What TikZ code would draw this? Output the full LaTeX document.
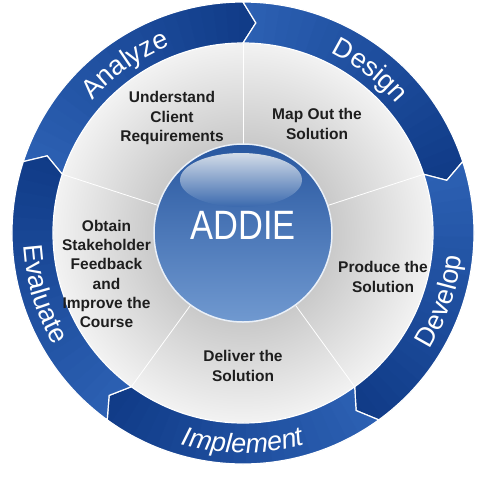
\documentclass[tikz,border=0pt]{standalone}
\usepackage{fontspec}
\setmainfont{Liberation Sans}
\usepackage{xcolor}
\usepackage{graphicx}
\usepackage{tikz}
\usetikzlibrary{decorations.text, positioning}
\definecolor{ringlight}{HTML}{2C60B3}
\definecolor{ringdark}{HTML}{0F3A86}
\definecolor{hubtop}{HTML}{2857A0}
\definecolor{hubmid}{HTML}{3A6AB0}
\definecolor{hubbottom}{HTML}{7099D0}
\definecolor{glosstop}{HTML}{D3DCE8}
\definecolor{glossbottom}{HTML}{3A69AE}
\definecolor{tasktext}{HTML}{1E1E1E}
\newcommand{\ringfont}{\fontsize{27}{27}\selectfont}
% one arrow of the ring, from its notch at #1 clockwise to its head
\newcommand{\segpath}[1]{(#1:231) arc[start angle=#1, end angle=#1-72, radius=231]
  -- (#1-75.5:210.5) -- (#1-72:190) arc[start angle=#1-72, end angle=#1, radius=190]
  -- (#1-3.5:210.5) -- cycle}
\tikzstyle{task} = [align=center, text=tasktext, font=\bfseries\fontsize{15.5}{19.2}\selectfont, inner sep=0pt]
\tikzstyle{segment} = [draw=white, line width=1.2pt, line join=miter]
\tikzstyle{divider} = [draw=white, line width=0.8pt]
\tikzstyle{phase} = [decorate, decoration={text along path, text align=center, text color=white}]

\begin{document}
\begin{tikzpicture}[x=1pt, y=1pt]
  \useasboundingbox (-243,-247) rectangle (246,233);
  % grey disc and the five sectors
  \shade[inner color=gray!70, outer color=gray!10] (0,0) circle (190);
  \foreach \a in {90,18,-54,-126,162}
    \draw[divider] (\a:89) -- (\a:190);
  % ring of arrows, clockwise, darker towards each head
  \foreach \s in {162,90,18,-54,-126} {
    \begin{scope}
      \clip \segpath{\s};
      \foreach \k [evaluate=\k as \pct using int(\k*100/23)] in {0,...,23}
        \fill[ringdark!\pct!ringlight] (0,0) -- (\s+0.5-3.25*\k:240)
          arc[start angle=\s+0.5-3.25*\k, delta angle=-3.7, radius=240] -- cycle;
    \end{scope}
    \draw[segment] \segpath{\s};
  }
  % phase names along the ring
  \path[phase, decoration={text={|\ringfont|Analyze}}] (155:200.5) arc[start angle=155, end angle=95, radius=200.5];
  \path[phase, decoration={text={|\ringfont|Design}}] (82:200.5) arc[start angle=82, end angle=22, radius=200.5];
  \path[phase, decoration={text={|\ringfont|Develop}}] (-49:220) arc[start angle=-49, end angle=11, radius=220];
  \path[phase, decoration={text={|\ringfont\itshape|Implement}}] (-120:220) arc[start angle=-120, end angle=-60, radius=220];
  \path[phase, decoration={text={|\ringfont|Evaluate}}] (167:220) arc[start angle=167, end angle=227, radius=220];
  % hub
  \shade[top color=hubtop, middle color=hubmid, bottom color=hubbottom, draw=white!85!hubbottom, line width=1.5pt] (0,0) circle (89);
  \shade[top color=glosstop, bottom color=glossbottom] (-2,53) ellipse (61 and 27);
  \node[text=white, font=\fontsize{41}{41}\selectfont] (hub) at (0,8) {\scalebox{0.84}[1]{ADDIE}};
  % tasks
  \node[task] (understand) at (-71,115) {Understand\\Client\\Requirements};
  \node[task] (mapout) at (74,109) {Map Out the\\Solution};
  \node[task] (produce) at (140,-44) {Produce the\\Solution};
  \node[task] (deliver) at (0,-133) {Deliver the\\Solution};
  \node[task] (obtain) at (-136.5,-41) {Obtain\\Stakeholder\\Feedback\\and\\Improve the\\Course};
\end{tikzpicture}
\end{document}
